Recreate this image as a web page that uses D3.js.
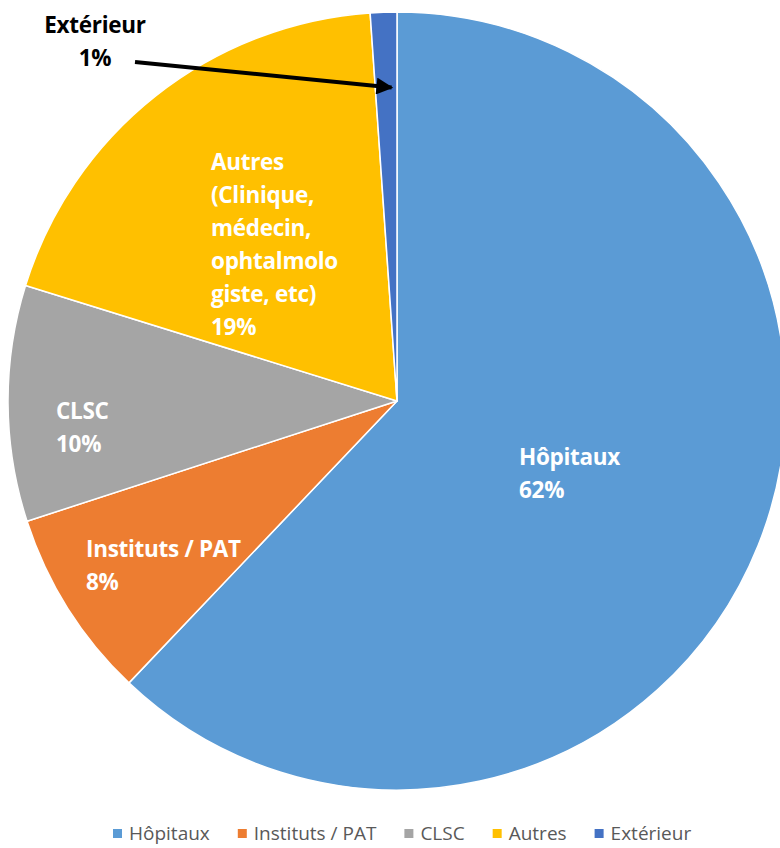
<!DOCTYPE html>
<html>
<head>
<meta charset="utf-8">
<script src="https://cdn.jsdelivr.net/npm/d3@7"></script>
<style>
	body { margin: 0; background: #fff; }
	svg { display: block; }
</style>
</head>
<body>
<svg id="chart" width="780" height="848"></svg>
<script>
// data
var categories = ['Hôpitaux', 'Instituts / PAT', 'CLSC', 'Autres', 'Extérieur'];
var values = [62.1, 7.9, 9.8, 19.1, 1.1];
var percentLabels = ['62%', '8%', '10%', '19%', '1%'];
var labelLines = [
	['Hôpitaux'],
	['Instituts / PAT'],
	['CLSC'],
	['Autres', '(Clinique,', 'médecin,', 'ophtalmolo', 'giste, etc)'],
	['Extérieur']
];
var colors = ['#5B9BD5', '#ED7D31', '#A5A5A5', '#FFC000', '#4472C4'];

// layout
var cx = 397, cy = 401, radius = 389;
var lineH = 33;
// label box anchors (left x, first baseline)
var labelPos = [
	{x: 519, y: 465},
	{x: 86, y: 557},
	{x: 56, y: 419},
	{x: 211, y: 170},
	{x: 95, y: 33, anchor: 'middle', outside: true}
];

var svg = d3.select('#chart');

var pie = d3.pie().sort(null).value(function(d){ return d; });
var arc = d3.arc().innerRadius(0).outerRadius(radius);
var arcs = pie(values);

var g = svg.append('g').attr('transform', 'translate(' + cx + ',' + cy + ')');

g.selectAll('path.slice')
	.data(arcs)
	.enter().append('path')
	.attr('class', 'slice')
	.attr('d', arc)
	.attr('fill', function(d, i){ return colors[i]; })
	.attr('stroke', '#fff')
	.attr('stroke-width', 1.5)
	.attr('stroke-linejoin', 'round');

// data labels
var labelFont = '"Open Sans", "DejaVu Sans", sans-serif';
for (var i = 0; i < categories.length; i++){
	var p = labelPos[i];
	var lines = labelLines[i].concat([percentLabels[i]]);
	var t = svg.append('text')
		.attr('font-family', labelFont)
		.attr('font-weight', 700)
		.attr('font-size', 22.5)
		.attr('letter-spacing', -0.3)
		.attr('fill', p.outside ? '#000' : '#fff')
		.attr('text-anchor', p.anchor || 'start');
	lines.forEach(function(line, k){
		t.append('tspan')
			.attr('x', p.x)
			.attr('y', p.y + k * lineH)
			.text(line);
	});
}

// arrow pointing at the small slice
var ext = arcs[4];
var tipAngle = ext.startAngle + (ext.endAngle - ext.startAngle) * 0.75;
var tipR = radius * 0.806;
var tip = [cx + tipR * Math.sin(tipAngle), cy - tipR * Math.cos(tipAngle)];

svg.append('defs').append('marker')
	.attr('id', 'arrowhead')
	.attr('viewBox', '0 0 10 10')
	.attr('refX', 9)
	.attr('refY', 5)
	.attr('markerWidth', 5)
	.attr('markerHeight', 4.2)
	.attr('orient', 'auto')
	.append('path')
	.attr('d', 'M0,0 L10,5 L0,10 Z')
	.attr('fill', '#000');

svg.append('line')
	.attr('x1', 135)
	.attr('y1', 62)
	.attr('x2', tip[0])
	.attr('y2', tip[1])
	.attr('stroke', '#000')
	.attr('stroke-width', 4)
	.attr('marker-end', 'url(#arrowhead)');

// legend
var legend = svg.append('g').attr('class', 'legend');
var lx = 113, ly = 840;
for (var i = 0; i < categories.length; i++){
	legend.append('rect')
		.attr('x', lx)
		.attr('y', ly - 11)
		.attr('width', 9)
		.attr('height', 9)
		.attr('fill', colors[i]);
	var lt = legend.append('text')
		.attr('x', lx + 16)
		.attr('y', ly)
		.attr('font-family', labelFont)
		.attr('font-size', 19)
		.attr('fill', '#595959')
		.text(categories[i]);
	lx = lx + 16 + lt.node().getComputedTextLength() + 28;
}
</script>
</body>
</html>
